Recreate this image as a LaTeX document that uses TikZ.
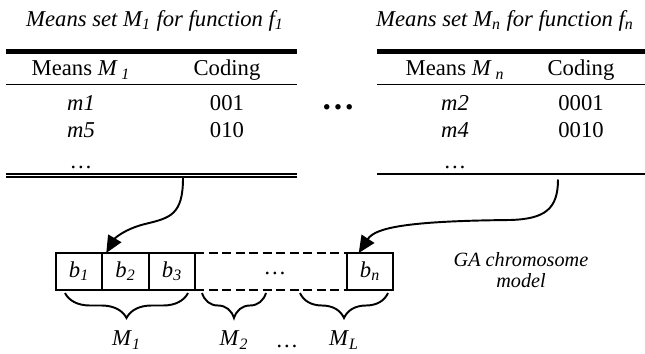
\documentclass[tikz,border=0pt]{standalone}
\usepackage{fontspec}
\setmainfont{Liberation Serif}
\usepackage{tikz}
\usetikzlibrary{positioning,arrows.meta,calc,decorations.pathreplacing}
\newcommand{\msub}[2]{\textit{#1}\textsubscript{\textit{#2}}}

\begin{document}
\begin{tikzpicture}[font=\fontsize{12.9}{15}\selectfont,
  cell/.style={inner sep=1pt},
  bit/.style={draw, line width=1.1pt, minimum width=0.93cm, minimum height=0.74cm, inner sep=0pt, outer sep=0pt},
  link/.style={line width=1.1pt, -{Triangle[length=0.34cm,width=0.3cm]}},
  mbrace/.style={decorate, decoration={brace, mirror, amplitude=0.5cm}, line width=1.1pt},
  gapline/.style={dash pattern=on 0.18cm off 0.09cm, line width=0.8pt}]
\useasboundingbox (0,0) rectangle (12.9,7.06);
% left table: means of f_1
\node[cell] (ttl1) at (3.1,6.64) {\textit{Means set \msub{M}{1} for function \msub{f}{1}}};
\draw[line width=1.3pt] (0.12,6.05) -- (5.94,6.05);
\draw[line width=0.75pt] (0.12,6.0) -- (5.94,6.0);
\node[cell] (h11) at (1.62,5.66) {Means \textit{M}\,\textsubscript{\textit{1}}};
\node[cell] (h12) at (4.54,5.66) {Coding};
\draw[line width=1.1pt] (0.12,5.37) -- (5.94,5.37);
\node[cell] (m1) at (1.62,5.0) {\textit{m1}};
\node[cell] (c1) at (4.54,5.0) {001};
\node[cell] (m5) at (1.62,4.46) {\textit{m5}};
\node[cell] (c5) at (4.54,4.46) {010};
\node[cell] (d1) at (1.62,3.72) {\dots};
\foreach \y in {3.574,3.516} \draw[line width=1.1pt] (0.12,\y) -- (5.94,\y);
% right table: means of f_n
\node[cell] (ttln) at (10.1,6.64) {\textit{Means set \msub{M}{n} for function \msub{f}{n}}};
\draw[line width=1.3pt] (7.54,6.05) -- (12.9,6.05);
\draw[line width=0.75pt] (7.54,6.0) -- (12.9,6.0);
\node[cell] (hn1) at (9.1,5.66) {Means \textit{M}\,\textsubscript{\textit{n}}};
\node[cell] (hn2) at (11.62,5.66) {Coding};
\draw[line width=1.1pt] (7.54,5.37) -- (12.9,5.37);
\node[cell] (m2) at (9.1,5.0) {\textit{m2}};
\node[cell] (c2) at (11.62,5.0) {0001};
\node[cell] (m4) at (9.1,4.46) {\textit{m4}};
\node[cell] (c4) at (11.62,4.46) {0010};
\node[cell] (dn) at (9.1,3.72) {\dots};
\draw[line width=1.2pt] (7.54,3.584) -- (12.9,3.584);
% tables left out
\node (tdots) at (6.76,4.92) {\fontsize{19}{19}\selectfont\textbf{\dots}};
% chromosome
\node[bit] (b1) at (1.58,1.63) {\msub{b}{1}};
\node[bit, right=0pt of b1] (b2) {\msub{b}{2}};
\node[bit, right=0pt of b2] (b3) {\msub{b}{3}};
\node[bit] (bn) at (7.4,1.63) {\msub{b}{n}};
\draw[gapline] (b3.north east) -- (bn.north west);
\draw[gapline] (b3.south east) -- (bn.south west);
\node (bdots) at (5.5,1.6) {\dots};
\node[align=center, inner sep=0pt, font=\fontsize{11.5}{11.5}\selectfont\itshape] (ga) at (10.42,1.66) {GA chromosome\\model};
% gene groups
\draw[mbrace] (1.3,1.2) -- (3.76,1.2) node[midway, yshift=-0.94cm] (lm1) {\msub{M}{1}};
\draw[mbrace] (4.04,1.2) -- (5.32,1.2) node[midway, yshift=-0.94cm] (lm2) {\msub{M}{2}};
\draw[mbrace] (6.0,1.2) -- (7.76,1.2) node[midway, yshift=-0.94cm] (lml) {\msub{M}{L}};
\node (ldots) at (5.74,0.14) {\dots};
% codings into the chromosome
\coordinate (src1) at (3.66,3.5);
\coordinate (srcn) at (11.16,3.47);
\draw[link] (src1) .. controls (3.66,2.76) and (3.4,2.7) .. (2.9,2.58)
  .. controls (2.5,2.48) and (2.3,2.3) .. ($(b2.north west)+(0.08,0)$);
\draw[link] (srcn) .. controls (11.16,2.88) and (10.9,2.68) .. (10.2,2.66)
  .. controls (8.1,2.64) and (7.5,2.5) .. ($(bn.north west)+(0.24,0)$);
\end{tikzpicture}
\end{document}
